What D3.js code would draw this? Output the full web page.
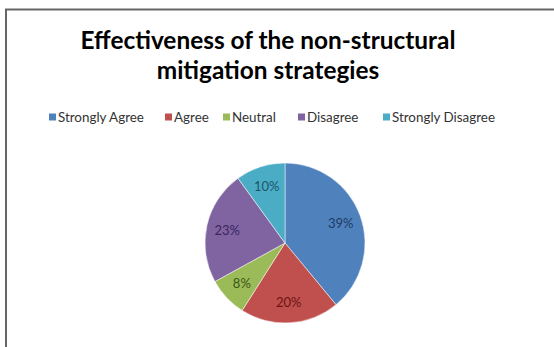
<!DOCTYPE html>
<html>
<head>
<meta charset="utf-8">
<script src="https://cdn.jsdelivr.net/npm/d3@7"></script>
<style>
  body { margin: 0; background: #fff; }
  svg { display: block; }
</style>
</head>
<body>
<svg id="chart" width="554" height="347"></svg>
<script>
const categories = ["Strongly Agree", "Agree", "Neutral", "Disagree", "Strongly Disagree"];
const values = [39, 20, 8, 23, 10];
const titleLines = ["Effectiveness of the non-structural", "mitigation strategies"];

const width = 554, height = 347;
const svg = d3.select("#chart");

// frame of the chart area (left and top edges only show in the picture)
svg.append("path")
  .attr("d", `M6,${height} L6,9.5 L${width},9.5`)
  .attr("fill", "none")
  .attr("stroke", "#666")
  .attr("stroke-width", 2);

const color = d3.scaleOrdinal()
  .domain(categories)
  .range(["#4F81BD", "#C0504D", "#9BBB59", "#8064A2", "#4BACC6"]);
const labelColor = d3.scaleOrdinal()
  .domain(categories)
  .range(["#1F3A66", "#6B1412", "#3D5516", "#3A2560", "#1B5566"]);

// title
svg.append("g")
  .selectAll("text")
  .data(titleLines)
  .join("text")
  .attr("x", 268)
  .attr("y", (d, i) => 49 + i * 30)
  .attr("text-anchor", "middle")
  .attr("font-family", "Lato, 'Open Sans', sans-serif")
  .attr("font-weight", "bold")
  .attr("font-size", 24.4)
  .attr("fill", "#000")
  .text(d => d);

// legend
const legendX = [49, 165, 223, 298, 383];
const legend = svg.append("g")
  .selectAll("g")
  .data(categories)
  .join("g")
  .attr("transform", (d, i) => `translate(${legendX[i]},117)`);
legend.append("rect")
  .attr("x", 0).attr("y", -3.5)
  .attr("width", 7).attr("height", 7)
  .attr("fill", d => color(d));
legend.append("text")
  .attr("x", 9).attr("y", 4.5)
  .attr("font-family", "Lato, 'Open Sans', sans-serif")
  .attr("font-size", 13.4)
  .attr("fill", "#333")
  .text(d => d);

// pie
const radius = 80;
const pie = d3.pie().sort(null).value(d => d.value);
const arcs = pie(categories.map((c, i) => ({ name: c, value: values[i] })));
const arc = d3.arc().innerRadius(0).outerRadius(radius);
const labelArc = d3.arc().innerRadius(radius * 0.74).outerRadius(radius * 0.74);

const g = svg.append("g").attr("transform", "translate(285,243)");
g.selectAll("path")
  .data(arcs)
  .join("path")
  .attr("d", arc)
  .attr("fill", d => color(d.data.name))
  .attr("stroke", "#fff")
  .attr("stroke-width", 0.5);

g.selectAll("text")
  .data(arcs)
  .join("text")
  .attr("transform", d => `translate(${labelArc.centroid(d)})`)
  .attr("text-anchor", "middle")
  .attr("dy", "0.35em")
  .attr("font-family", "Lato, 'Open Sans', sans-serif")
  .attr("font-size", 13)
  .attr("fill", d => labelColor(d.data.name))
  .text(d => d.data.value + "%");
</script>
</body>
</html>
